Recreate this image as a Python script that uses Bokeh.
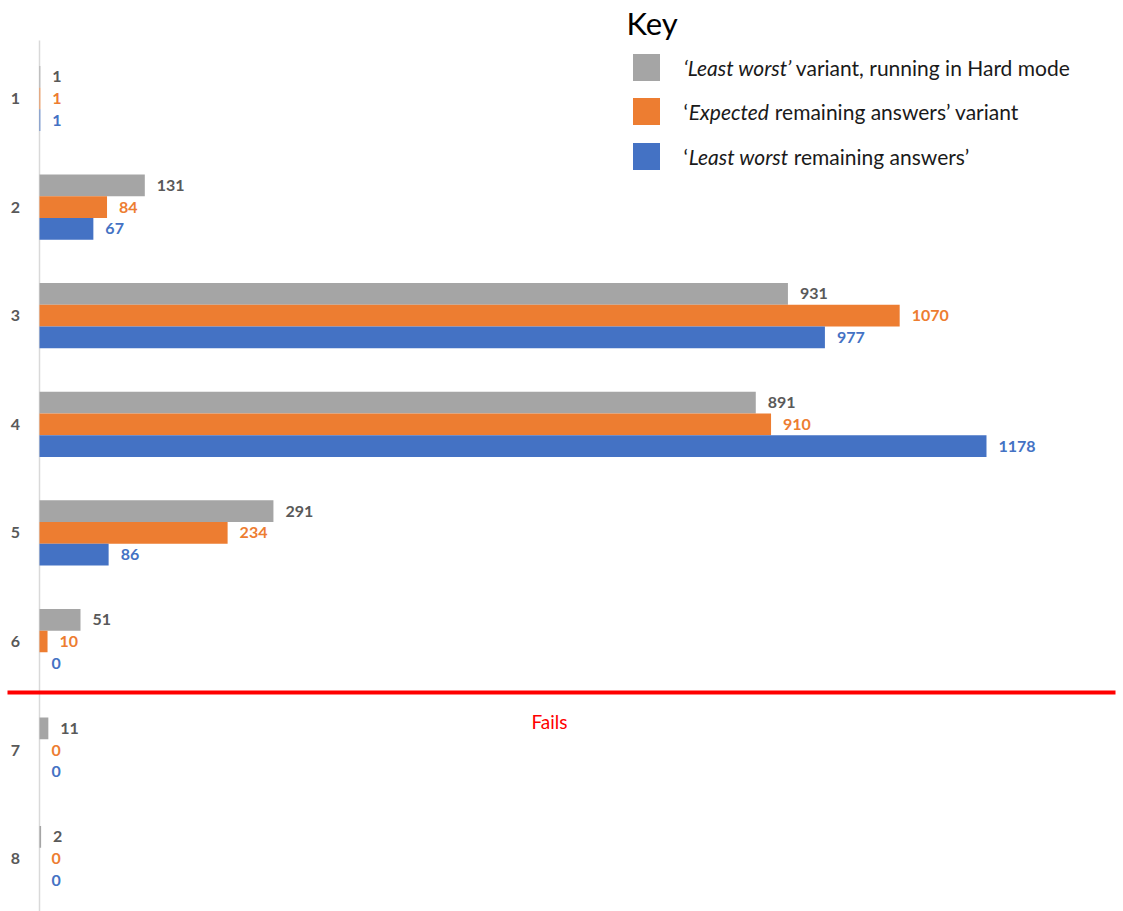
from bokeh.plotting import figure
from bokeh.models import Range1d
from bokeh.core.properties import value
from bokeh.embed import file_html
from bokeh.resources import INLINE

# ---------------- data ----------------
categories = [1, 2, 3, 4, 5, 6, 7, 8]
hard_least_worst = [1, 131, 931, 891, 291, 51, 11, 2]
expected_remaining = [1, 84, 1070, 910, 234, 10, 0, 0]
least_worst_remaining = [1, 67, 977, 1178, 86, 0, 0, 0]
category_labels = [str(c) for c in categories]
fail_threshold = 6.47  # separator between solved (<=6) and fails (>6)

# ---------------- styles ----------------
GRAY, ORANGE, BLUE = "#A5A5A5", "#ED7D31", "#4472C4"
GRAY_TXT = "#595959"
FONT = "Lato"
W, H = 1123, 911

# canvas geometry (frame fills the canvas)
PX_PER_UNIT = 0.8039
X_ZERO_PX = 39
CAT1_PX, CAT_STEP_PX = 98, 108.6
X0 = -X_ZERO_PX / PX_PER_UNIT
X1 = X0 + W / PX_PER_UNIT
Y_TOP = 1 - CAT1_PX / CAT_STEP_PX
Y_BOT = 1 + (H - CAT1_PX) / CAT_STEP_PX


def px(xp, yp):
    return X0 + xp / PX_PER_UNIT, Y_TOP + yp / CAT_STEP_PX


p = figure(width=W, height=H, x_range=Range1d(X0, X1), y_range=Range1d(Y_BOT, Y_TOP),
           output_backend="svg", toolbar_location=None, min_border=0)
p.axis.visible = False
p.grid.visible = False
p.outline_line_color = None
p.background_fill_color = "white"
p.border_fill_color = "white"

# axis line
_, ax_top = px(0, 40)
p.segment(x0=[0], y0=[ax_top], x1=[0], y1=[Y_BOT], line_color="#D9D9D9", line_width=1.5)

# category labels
p.text(x=[0] * len(categories), y=categories, text=category_labels, x_offset=-24,
       text_align="center", text_baseline="middle", text_font=value(FONT),
       text_font_style="bold", text_font_size="16px", text_color=GRAY_TXT)

BAR_H = 0.2
series = [
    (hard_least_worst, -BAR_H, GRAY, GRAY_TXT),
    (expected_remaining, 0.0, ORANGE, ORANGE),
    (least_worst_remaining, BAR_H, BLUE, BLUE),
]
for vals, off, col, tcol in series:
    ys = [c + off for c in categories]
    p.hbar(y=ys, left=0, right=vals, height=BAR_H, fill_color=col, line_color=None)
    p.text(x=vals, y=ys, text=[str(v) for v in vals], x_offset=12,
           text_align="left", text_baseline="middle", text_font=value(FONT),
           text_font_style="bold", text_font_size="16px", text_color=tcol)

# fails separator
lx0, _ = px(7, 0)
lx1, _ = px(1115, 0)
p.segment(x0=[lx0], y0=[fail_threshold], x1=[lx1], y1=[fail_threshold],
          line_color="#FF0000", line_width=4)
fx, fy = px(549, 721)
p.text(x=[fx], y=[fy], text=["Fails"], text_align="center", text_baseline="middle",
       text_font=value(FONT), text_font_size="19px", text_color="#FF0000")

# key / legend
kx, ky = px(626, 22)
p.text(x=[kx], y=[ky], text=["Key"], text_align="left", text_baseline="middle",
       text_font=value(FONT), text_font_size="31px", text_color="#000000")

KEY_FS = 21
# (text, style, advance in em for Lato incl. following space) chained left to right
key_rows = [
    (GRAY, 67, [("\u2018Least worst\u2019", "italic", 5.35), ("variant, running in Hard mode", "normal", 13.0)]),
    (ORANGE, 111, [("\u2018", "normal", 0.25), ("Expected", "italic", 4.1), ("remaining answers\u2019 variant", "normal", 11.6)]),
    (BLUE, 156, [("\u2018", "normal", 0.25), ("Least worst", "italic", 5.0), ("remaining answers\u2019", "normal", 8.4)]),
]
for col, yp, parts in key_rows:
    sx, sy = px(646, yp)
    p.rect(x=[sx], y=[sy], width=27, height=27, width_units="screen", height_units="screen",
           fill_color=col, line_color=None)
    xp = 683
    for txt, style, em in parts:
        tx, ty = px(xp, yp)
        p.text(x=[tx], y=[ty], text=[txt], text_align="left", text_baseline="middle",
               text_font=value(FONT), text_font_style=style, text_font_size=f"{KEY_FS}px",
               text_color="#1a1a1a")
        xp += em * KEY_FS

open("out.html", "w").write(file_html(p, INLINE))
